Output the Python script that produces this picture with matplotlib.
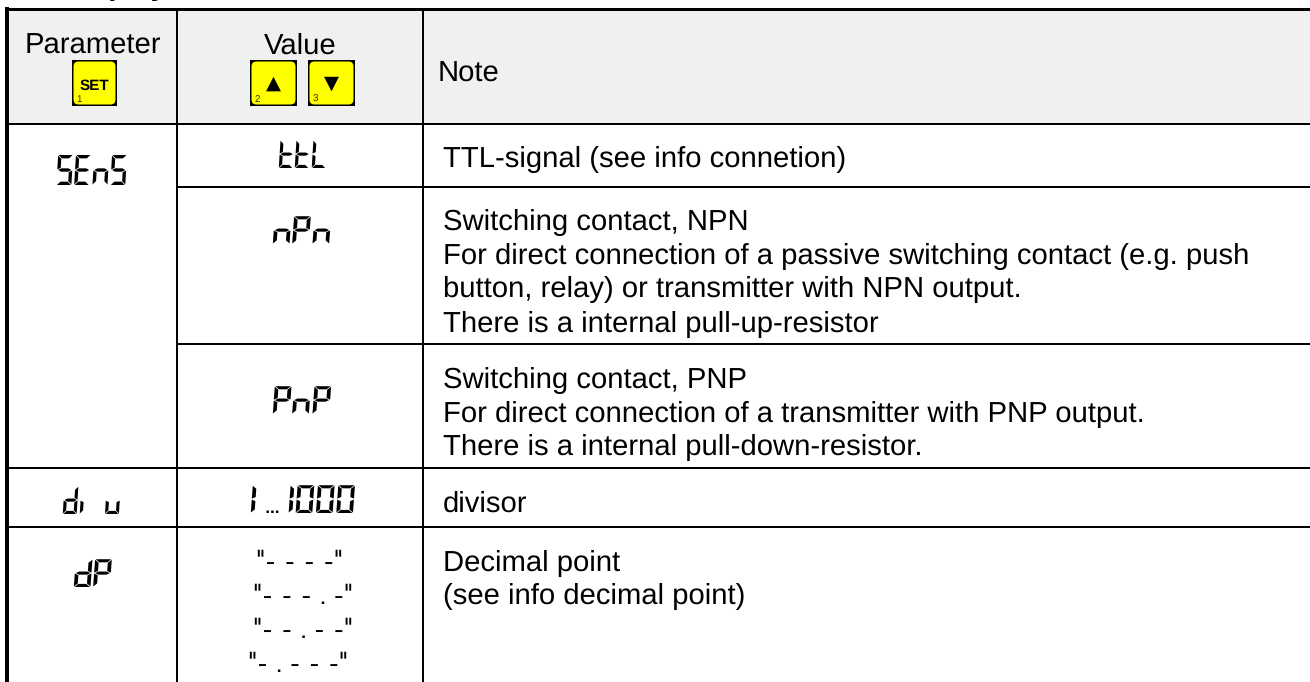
import os
import tempfile
import matplotlib
matplotlib.use("Agg")
import matplotlib.pyplot as plt
from matplotlib.font_manager import FontProperties
from matplotlib.patches import FancyBboxPatch, Rectangle
from fontTools.fontBuilder import FontBuilder
from fontTools.pens.ttGlyphPen import TTGlyphPen

# ---------- content ----------
heading = "display"
header_parameter = "Parameter"
header_value = "Value"
header_note = "Note"
key_labels = ["SET", "▲", "▼"]
key_numbers = ["1", "2", "3"]
parameters = ["SEnS", "di u", "dP"]
values = ["ttL", "nPn", "PnP", "1 ... 1000"]
dp_values = ['"- - - -"', '"- - - . -"', '"- - . - -"', '"- . - - -"']
notes_ttl = ["TTL-signal (see info connetion)"]
notes_npn = ["Switching contact, NPN",
             "For direct connection of a passive switching contact (e.g. push",
             "button, relay) or transmitter with NPN output.",
             "There is a internal pull-up-resistor"]
notes_pnp = ["Switching contact, PNP",
             "For direct connection of a transmitter with PNP output.",
             "There is a internal pull-down-resistor."]
notes_div = ["divisor"]
notes_dp = ["Decimal point", "(see info decimal point)"]


# ---------- a small seven-segment display font, so the LED labels stay text ----------
H, W, T, GAP, SLANT = 1000, 500, 112, 18, 0.06
MID = H / 2
SEGMENTS = {
    "a": [(GAP, H), (W - GAP, H), (W - GAP - T, H - T), (GAP + T, H - T)],
    "d": [(GAP, 0), (GAP + T, T), (W - GAP - T, T), (W - GAP, 0)],
    "g": [(GAP + 10, MID), (GAP + T, MID + T / 2), (W - GAP - T, MID + T / 2),
          (W - GAP - 10, MID), (W - GAP - T, MID - T / 2), (GAP + T, MID - T / 2)],
    "f": [(0, H - GAP), (T, H - GAP - T), (T, MID + T / 2 + GAP), (0, MID + GAP)],
    "e": [(0, MID - GAP), (T, MID - T / 2 - GAP), (T, GAP + T), (0, GAP)],
    "b": [(W, H - GAP), (W, MID + GAP), (W - T, MID + T / 2 + GAP), (W - T, H - GAP - T)],
    "c": [(W, MID - GAP), (W, GAP), (W - T, GAP + T), (W - T, MID - T / 2 - GAP)],
}
GLYPH_SEGS = {
    "S": "afgcd", "E": "afged", "n": "egc", "t": "fged", "L": "fed",
    "P": "abfge", "d": "bcged", "i": "e", "u": "edc", "0": "abcdef",
}
ADVANCE = 610


def build_font(path, xscale=1.0):
    names = [".notdef", "space", "period", "one", "hyphen", "quotedbl"] + list(GLYPH_SEGS)
    cmap = {32: "space", 46: "period", 49: "one", 45: "hyphen", 34: "quotedbl"}
    for ch in GLYPH_SEGS:
        cmap[ord(ch)] = ch

    def draw(polys, shift=30, slant=SLANT, sx=xscale):
        pen = TTGlyphPen(None)
        for poly in polys:
            pts = [(round((x + y * slant) * sx + shift), round(y)) for x, y in poly]
            pen.moveTo(pts[0])
            for p in pts[1:]:
                pen.lineTo(p)
            pen.closePath()
        return pen.glyph()

    def adv(value):
        return round(value * xscale)

    glyphs = {".notdef": draw([]), "space": draw([])}
    metrics = {".notdef": (adv(ADVANCE), 0), "space": (300, 0)}
    for ch, segs in GLYPH_SEGS.items():
        glyphs[ch] = draw([SEGMENTS[s] for s in segs])
        metrics[ch] = (adv(ADVANCE), 30)
    glyphs["one"] = draw([SEGMENTS["f"], SEGMENTS["e"]])
    metrics["one"] = (adv(210), 30)
    s = 90
    glyphs["period"] = draw([[(0, 0), (0, s), (s, s), (s, 0)]], shift=40, slant=0, sx=1)
    metrics["period"] = (170, 40)
    glyphs["hyphen"] = draw([[(60, 215), (60, 285), (310, 285), (310, 215)]], shift=0, slant=0, sx=1)
    metrics["hyphen"] = (400, 60)
    glyphs["quotedbl"] = draw([[(0, 480), (0, 730), (70, 730), (70, 480)],
                               [(130, 480), (130, 730), (200, 730), (200, 480)]],
                              shift=30, slant=0, sx=1)
    metrics["quotedbl"] = (300, 30)

    fb = FontBuilder(1000, isTTF=True)
    fb.setupGlyphOrder(names)
    fb.setupCharacterMap(cmap)
    fb.setupGlyf(glyphs)
    fb.setupHorizontalMetrics(metrics)
    fb.setupHorizontalHeader(ascent=1100, descent=-200)
    fb.setupNameTable({"familyName": "SevenSeg", "styleName": "Regular"})
    fb.setupOS2(sTypoAscender=1100, usWinAscent=1100, usWinDescent=200)
    fb.setupPost()
    fb.save(path)


font_dir = tempfile.mkdtemp()
seg_path = os.path.join(font_dir, "sevenseg.ttf")
wide_path = os.path.join(font_dir, "sevenseg_wide.ttf")
build_font(seg_path)
build_font(wide_path, xscale=1.2)
SEG = FontProperties(fname=seg_path)
WIDE = FontProperties(fname=wide_path)

# ---------- figure ----------
plt.rcParams["font.family"] = ["Liberation Sans", "DejaVu Sans"]
plt.rcParams["text.hinting"] = "none"
plt.rcParams["text.hinting_factor"] = 8
fig = plt.figure(figsize=(13.1, 6.82), dpi=100, facecolor="white")
ax = fig.add_axes([0, 0, 1, 1])
ax.set_xlim(0, 1310)
ax.set_ylim(682, 0)
ax.axis("off")

ax.add_patch(Rectangle((9, 10), 1301, 113, facecolor="#f0f0f0", edgecolor="none", zorder=0))

PX = 72 / 100
thin = 2 * PX
for y, x0 in [(123.5, 5), (186.5, 177), (344, 177), (468, 5), (527, 5)]:
    ax.hlines(y, x0, 1310, color="black", lw=thin, zorder=2)
for x, y0 in [(177, 10), (423, 10)]:
    ax.vlines(x, y0, 682, color="black", lw=thin, zorder=2)
ax.vlines(7, 6.5, 682, color="black", lw=4 * PX, zorder=3)
ax.hlines(8.5, 5, 1310, color="black", lw=3 * PX, zorder=3)

TXT = 21.1
ax.text(67, -5.5, heading, fontsize=TXT, fontweight="bold", va="baseline", ha="left")
ax.text(92.5, 53.5, header_parameter, fontsize=TXT, ha="center", va="baseline")
ax.text(300, 53.5, header_value, fontsize=TXT, ha="center", va="baseline")
ax.text(438, 82, header_note, fontsize=TXT, ha="left", va="baseline")


def key(x0, x1, label, number, label_size, label_y, weight="bold", font=None):
    y0, y1 = 60, 106
    ax.add_patch(Rectangle((x0, y0), x1 - x0, y1 - y0, facecolor="black", edgecolor="none", zorder=3))
    ax.add_patch(FancyBboxPatch((x0 + 1.5, y0 + 1.5), x1 - x0 - 3, y1 - y0 - 3,
                                boxstyle="round,pad=0,rounding_size=5",
                                facecolor="#ffff00", edgecolor="none", zorder=4))
    ax.text((x0 + x1) / 2, label_y, label, fontsize=label_size, fontweight=weight,
            ha="center", va="baseline", zorder=5, family=font or ["Liberation Sans"])
    ax.text(x0 + 4.5, 102, number, fontsize=7, ha="left", va="baseline", color="#333300", zorder=5)


key(72, 117, key_labels[0], key_numbers[0], 11, 89.5)
key(250, 297, key_labels[1], key_numbers[1], 14, 88.5, weight="normal", font=["DejaVu Sans"])
key(308, 355, key_labels[2], key_numbers[2], 14, 88.5, weight="normal", font=["DejaVu Sans"])

# LED labels
ax.text(92, 185, parameters[0], fontproperties=SEG, fontsize=21.6, ha="center", va="baseline")
ax.text(92, 513.5, parameters[1], fontproperties=SEG, fontsize=20, ha="center", va="baseline")
ax.text(92.5, 587, parameters[2], fontproperties=WIDE, fontsize=20, ha="center", va="baseline")
ax.text(302.5, 168, values[0], fontproperties=SEG, fontsize=20, ha="center", va="baseline")
for label, x, y in zip(values[1:], [302, 302, 302.5], [245, 414, 513]):
    ax.text(x, y, label, fontproperties=WIDE, fontsize=20, ha="center", va="baseline")

for label, x, y in zip(dp_values, [300.5, 304, 304, 299], [570.5, 604.5, 637.5, 671.5]):
    ax.text(x, y, label, fontproperties=SEG, fontsize=20, ha="center", va="baseline")

# Notes
for lines, x, baselines in [
    (notes_ttl, 443, [167]),
    (notes_npn, 443, [230, 264, 297, 332]),
    (notes_pnp, 443, [388, 421.7, 455]),
    (notes_div, 443, [512]),
    (notes_dp, 443, [571, 604]),
]:
    for line, y in zip(lines, baselines):
        ax.text(x, y, line, fontsize=TXT, ha="left", va="baseline")

fig.savefig("out.png", dpi=100, facecolor="white")
